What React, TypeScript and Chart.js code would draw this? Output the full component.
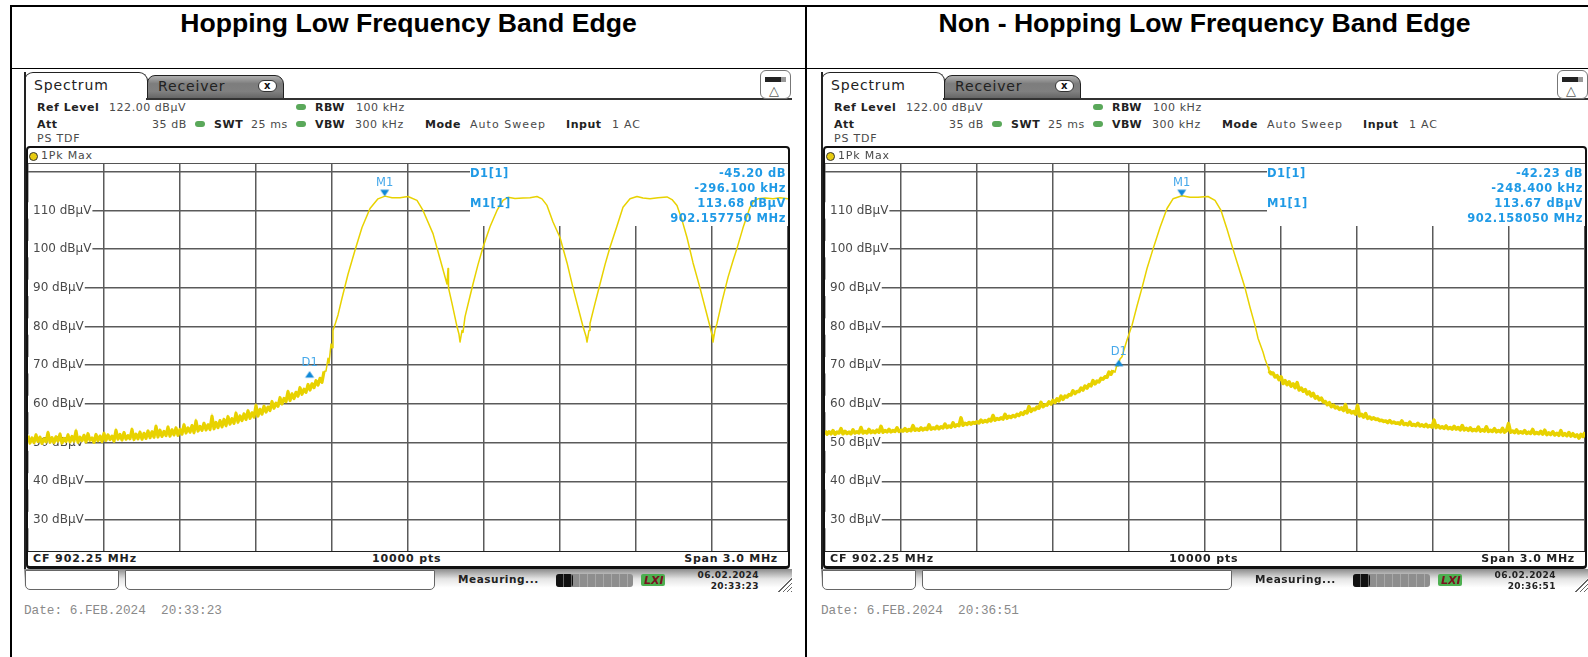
import React, { useEffect, useRef } from "react";
import { Chart, registerables } from "chart.js";

Chart.register(...registerables);

// Frequency axis: kHz from the start of the 3 MHz sweep (CF 902.25 MHz)
const xGridKHz = [0, 300, 600, 900, 1200, 1500, 1800, 2100, 2400, 2700, 3000];
const yTickDb = [30, 40, 50, 60, 70, 80, 90, 100, 110, 120];
const yUnlabelledDb = 120;
const yMinDb = 22;
const yMaxDb = 122;

// ---- Hopping trace ----
const hopNoiseEndKHz = 1168.4;
const hopNoiseDb = [
  51.8,49.9,51.2,50.0,52.0,50.3,51.4,49.8,51.0,50.2,52.6,50.1,51.3,50.0,51.5,50.4,52.2,49.9,51.1,
  50.3,52.0,50.2,51.6,50.4,53.0,50.1,51.4,50.5,51.9,50.2,52.3,50.6,51.2,50.1,52.1,50.5,51.7,50.3,52.4,
  50.6,52.0,50.8,51.7,50.4,53.2,50.9,52.1,50.7,52.6,50.9,51.8,51.0,53.4,50.8,52.2,51.0,52.7,50.9,
  52.4,51.1,53.0,51.3,52.8,51.4,54.2,51.5,53.2,51.6,52.9,51.8,54.0,51.7,53.3,52.0,53.8,51.9,53.4,
  52.2,54.6,52.5,53.8,52.7,54.4,52.6,55.6,53.0,54.2,53.2,55.0,53.3,54.6,53.4,56.8,53.6,55.2,53.9,55.7,
  54.1,56.0,54.4,56.7,54.8,56.2,55.0,57.6,55.3,56.9,55.7,57.4,56.0,58.2,56.3,57.7,56.6,59.6,
  56.9,58.6,57.4,59.4,57.9,59.2,58.3,60.6,58.9,60.2,59.4,61.6,60.0,61.4,60.6,63.2,
  60.9,62.6,61.4,63.0,62.0,64.2,62.5,63.8,63.0,65.0,63.6,65.2,64.2,66.0,64.9,66.6,65.6,68.4,
];
const hopSweepKHz = [
  1168.4,1176.3,1184.2,1188.2,1196.1,1200,1203.9,1211.8,1223.7,1239.4,1263.2,1290.8,1318.4,1350,1381.6,1409.2,
  1436.8,1468.4,1500,1535.5,1559.2,1598.7,1626.3,1653.9,1657.9,1659.9,1673.7,1693.4,1701.3,1705.3,1713.2,1717.1,
  1725,1740.8,1756.6,1776.3,1796.1,1823.7,1851.3,1875,1894.7,1922.4,1954,1981.6,2009.2,2028.9,2048.7,2072.4,
  2100,2127.6,2151.3,2171.1,2190.8,2202.6,2206.6,2214.5,2218.4,2238.2,2257.9,2277.7,2297.4,2325,2348.7,2376.3,
  2403.9,2427.6,2455.3,2486.8,2522.4,2542.1,2561.8,2581.6,2601.3,2625,2652.6,2672.4,2692.1,2700,2703.9,2711.8,
  2719.7,2739.5,2763.2,2782.9,2798.7,2822.4,2850,2865.8,2881.6,2909.2,2940.8,2968.4,3000,
];
const hopSweepDb = [
  68.4,68.5,71.8,70.5,75.5,74.5,79,80.5,83,87.3,93.5,99.7,105.6,110.5,113,113.7,
  113.3,113.3,113.6,112.6,110,104,97.5,91,95,90,86,80,78,76,79,78.5,
  82.5,86.8,91,96,100.5,105.8,110,112.6,113.4,113.1,113.2,113.3,113.6,113,111.3,107,
  103,96.5,90,85,80,77.5,76,79,80.8,86,91,96,100.5,106,110.8,113,
  113.6,113.2,113,113.3,113.5,112.8,111.3,107.5,103,96.5,90,85,80,77.8,76,79,
  80.8,86.5,92.7,97,100.2,105.5,110.8,112.5,113,113.2,113,113.3,113,
];

// ---- Non-hopping trace ----
const nonNoiseLowEndKHz = 1136.8;
const nonNoiseLowDb = [
  53.0,52.2,52.8,52.3,53.1,52.2,52.7,52.5,53.6,52.3,52.9,52.4,52.7,52.3,53.3,52.5,52.8,52.5,53.9,52.5,
  52.9,52.5,53.4,52.6,53.0,52.6,53.2,52.7,54.2,52.7,53.1,52.8,53.4,52.8,53.1,52.9,53.8,52.9,53.2,
  53.0,53.6,53.0,53.4,53.1,54.4,53.2,53.5,53.2,53.8,53.3,53.7,53.4,54.6,53.5,53.8,53.6,54.2,53.6,
  54.1,53.8,54.8,53.9,54.3,54.0,55.1,54.2,54.6,54.4,56.4,54.5,55.0,54.7,55.2,54.8,55.2,55.0,
  55.4,55.1,55.8,55.3,55.7,55.4,56.0,55.6,57.0,55.8,56.2,56.0,56.4,56.1,57.3,56.3,56.8,56.5,57.0,
  56.7,57.3,57.0,57.7,57.3,58.0,57.7,59.3,58.1,58.7,58.5,59.2,58.9,60.4,59.3,59.8,59.7,60.5,60.0,
  60.9,60.4,61.3,60.8,62.0,61.2,62.0,61.8,62.4,62.3,63.4,62.7,63.2,63.2,64.1,
  63.6,64.6,64.1,65.0,64.7,66.0,65.2,65.9,65.7,66.6,66.4,67.0,66.9,68.2,67.7,68.7,
];
const nonSweepKHz = [
  1136.8,1144.7,1152.6,1156.6,1164.5,1172.4,1180.3,1192.1,1211.8,1231.6,1251.3,1271.1,1294.7,1322.4,1350,1373.7,
  1409.2,1440.8,1472.4,1511.8,1539.5,1563.2,1586.8,1610.5,1634.2,1657.9,1677.6,1697.4,1709.2,1728.9,1736.8,1748.7,1752.6,
];
const nonSweepDb = [
  68.7,68.2,70.2,69.8,71.6,72.2,74,76.5,80.3,85.3,90,95,100,105.6,110.5,113,
  113.8,113.4,113.4,113.6,112.6,110,105.2,100,95,90,85,80.3,77,73.4,71.6,69.5,68.5,
];
const nonNoiseHighStartKHz = 1752.6;
const nonNoiseHighDb = [
  68.5,67.8,68.0,67.0,67.3,66.3,67.0,
  65.3,66.0,65.0,65.7,64.6,65.2,64.2,65.5,63.6,64.1,63.3,
  63.7,62.6,63.1,62.1,62.7,61.5,61.9,61.1,61.5,60.5,
  60.6,59.8,60.3,59.3,59.7,59.0,59.2,58.6,59.0,58.3,59.8,57.9,58.3,57.7,58.0,57.4,59.6,
  56.9,57.3,56.6,57.5,56.3,56.6,56.1,56.4,56.0,56.1,55.7,55.8,55.5,
  55.6,55.2,55.7,55.1,55.3,55.0,55.1,54.8,55.6,54.7,54.9,54.6,55.3,54.5,54.7,54.4,55.0,54.3,54.6,54.2,54.7,54.1,54.4,54.0,55.8,
  53.9,54.4,53.8,54.1,53.7,54.3,53.6,53.9,53.5,54.2,53.5,53.9,53.3,54.4,53.3,53.7,53.2,
  53.8,53.1,53.4,53.1,54.0,53.0,53.3,53.0,54.1,52.9,53.2,52.9,53.6,52.8,53.1,52.8,53.7,52.7,53.1,54.9,
  52.7,53.0,52.6,53.3,52.5,52.8,52.5,53.1,52.4,52.7,52.4,53.4,52.3,52.6,52.3,52.9,52.2,53.2,52.1,52.5,52.1,52.8,52.0,52.4,51.9,53.1,51.9,52.3,51.8,52.6,51.7,52.3,51.6,52.0,51.2,52.1,51.6,52.7,
];

// Markers: [kHz from sweep start, dB]
const hopM1 = [1407.75, 113.68];
const hopD1 = [1111.65, 68.48];
const nonM1 = [1408.05, 113.67];
const nonD1 = [1159.65, 71.44];

// Marker read-outs
const hopReadout = ["-45.20 dB", "-296.100 kHz", "113.68 dBµV", "902.157750 MHz"];
const nonReadout = ["-42.23 dB", "-248.400 kHz", "113.67 dBµV", "902.158050 MHz"];

const TRACE = "#e8d200";
const BLUE = "#1f9ae6";
const SANS = '"DejaVu Sans", sans-serif';

function spread(values: number[], startK: number, endK: number) {
  return values.map((y, i) => ({ x: startK + ((endK - startK) * i) / (values.length - 1), y }));
}
function pair(xs: number[], ys: number[]) {
  return xs.map((x, i) => ({ x, y: ys[i] }));
}
function triangle(dir: "up" | "down") {
  const c = document.createElement("canvas");
  c.width = 16;
  c.height = 16;
  const g = c.getContext("2d")!;
  g.fillStyle = "#0f88d8";
  g.beginPath();
  if (dir === "down") {
    g.moveTo(8, 8);
    g.lineTo(3.5, 1.5);
    g.lineTo(12.5, 1.5);
  } else {
    g.moveTo(8, 8);
    g.lineTo(3.5, 14.5);
    g.lineTo(12.5, 14.5);
  }
  g.closePath();
  g.fill();
  return c;
}

type Seg = { pts: { x: number; y: number }[]; w: number; join?: string };

const screenPlugin = {
  id: "screen",
  beforeDatasetsDraw(chart: any) {
    // read-out table blanks the top right of the graticule
    const { ctx, chartArea: a } = chart;
    ctx.save();
    ctx.fillStyle = "#fff";
    ctx.fillRect(a.left + 442, a.top, a.width - 442, 62);
    ctx.restore();
  },
  afterDatasetsDraw(chart: any) {
    const { ctx, scales } = chart;
    ctx.save();
    ctx.font = `11.5px ${SANS}`;
    ctx.fillStyle = "#45a8ea";
    ctx.textAlign = "center";
    ctx.textBaseline = "middle";
    chart.data.datasets.forEach((d: any) => {
      if (!d.markerLabel) return;
      const p = d.data[0];
      ctx.fillText(d.markerLabel, scales.x.getPixelForValue(p.x), scales.y.getPixelForValue(p.y) - d.labelGap);
    });
    ctx.restore();
  },
};

function Trace({ segs, m1, d1 }: { segs: Seg[]; m1: number[]; d1: number[] }) {
  const ref = useRef<HTMLCanvasElement>(null);
  useEffect(() => {
    const lines: any[] = segs.map((s) => ({
      data: s.pts,
      borderColor: TRACE,
      borderWidth: s.w,
      borderJoinStyle: s.join || "round",
      pointRadius: 0,
      tension: 0,
      fill: false,
    }));
    const chart = new Chart(ref.current!, {
      type: "line",
      data: {
        datasets: [
          {
            data: [{ x: m1[0], y: m1[1] }],
            showLine: false,
            pointStyle: triangle("down"),
            markerLabel: "M1",
            labelGap: 13,
          },
          {
            data: [{ x: d1[0], y: d1[1] }],
            showLine: false,
            pointStyle: triangle("up"),
            markerLabel: "D1",
            labelGap: 8,
          },
          ...lines,
        ] as any,
      },
      options: {
        animation: false,
        responsive: false,
        parsing: false,
        layout: { padding: 0, autoPadding: false },
        plugins: { legend: { display: false }, tooltip: { enabled: false } },
        scales: {
          x: {
            type: "linear",
            min: 0,
            max: 3000,
            afterBuildTicks: (s: any) => {
              s.ticks = xGridKHz.map((value) => ({ value }));
            },
            afterFit: (s: any) => {
              s.height = 0;
              s.paddingLeft = 0;
              s.paddingRight = 0;
            },
            ticks: { display: false },
            grid: { color: "#5a5a5a", lineWidth: 1.5, drawTicks: false },
            border: { display: false },
          },
          y: {
            min: yMinDb,
            max: yMaxDb,
            afterBuildTicks: (s: any) => {
              s.ticks = yTickDb.map((value) => ({ value }));
            },
            afterFit: (s: any) => {
              s.width = 0;
              s.paddingTop = 0;
              s.paddingBottom = 0;
            },
            ticks: {
              mirror: true,
              padding: 5,
              color: "#4a4a4a",
              font: { family: "DejaVu Sans", size: 12 },
              showLabelBackdrop: (c: any) => c.tick.value !== yUnlabelledDb,
              backdropColor: "#ffffff",
              backdropPadding: { left: 5, right: 1, top: 1, bottom: 1 },
              callback: (v: any) => (v === yUnlabelledDb ? "" : `${v} dBµV`),
            } as any,
            grid: { color: "#5a5a5a", lineWidth: 1.5, drawTicks: false },
            border: { display: false },
          },
        },
      } as any,
      plugins: [screenPlugin],
    });
    return () => chart.destroy();
  }, []);
  return (
    <canvas
      ref={ref}
      width={760}
      height={387}
      style={{ position: "absolute", left: 28, top: 164, width: 760, height: 387, display: "block" }}
    />
  );
}

function T({ x, y, right, bold, size = 11, color, ls = 0.55, children, font }: any) {
  const st: React.CSSProperties = {
    position: "absolute",
    top: y,
    transform: "translateY(-50%)",
    lineHeight: 1,
    whiteSpace: "pre",
    fontFamily: font || SANS,
    fontSize: size,
    fontWeight: bold ? 700 : 400,
    color: color || (bold ? "#222" : "#4a4a4a"),
    letterSpacing: ls,
  };
  if (right !== undefined) st.right = 797 - right;
  else st.left = x;
  return <div style={st}>{children}</div>;
}

function Box({ x, y, w, h, style }: any) {
  return <div style={{ position: "absolute", left: x, top: y, width: w, height: h, boxSizing: "border-box", ...style }} />;
}

function Led({ x, y }: any) {
  return <Box x={x} y={y} w={10} h={6} style={{ background: "#5aa85a", borderRadius: 3 }} />;
}

function Panel({ left, title, readout, date, time, segs, m1, d1 }: any) {
  return (
    <div style={{ position: "absolute", left, top: 0, width: 797, height: 657 }}>
      {/* tabs */}
      <Box x={24} y={72} w={124} h={27} style={{ border: "1.5px solid #222", borderBottom: "none", borderRadius: "9px 9px 0 0", background: "#fff" }} />
      <Box x={147} y={75} w={137} h={24} style={{ border: "1.5px solid #222", borderRadius: "8px 9px 0 0", background: "linear-gradient(#b0b0b0,#7d7d7d 35%,#808080 70%,#666)" }} />
      <T x={34} y={85} size={14} color="#222" ls={0.85}>Spectrum</T>
      <T x={158} y={86} size={14} color="#222" ls={0.85}>Receiver</T>
      <Box x={258} y={80} w={19} h={12} style={{ background: "#fff", border: "1.5px solid #333", borderRadius: 6 }} />
      <T x={264} y={85.5} size={10} bold color="#111" ls={0}>x</T>
      <Box x={146} y={97.5} w={646} h={2} style={{ background: "#333" }} />
      {/* icon */}
      <Box x={760} y={70} w={31} h={29} style={{ border: "1.2px solid #777", borderRadius: 6, background: "#fff" }} />
      <Box x={765} y={77} w={21} h={5} style={{ background: "linear-gradient(90deg,#222 75%,#999 75%)" }} />
      <T x={769} y={90} size={13} color="#555" ls={0}>△</T>
      {/* settings */}
      <T x={37} y={107} bold>Ref Level</T>
      <T x={109} y={107}>122.00 dBµV</T>
      <Led x={296} y={104} />
      <T x={315} y={107} bold>RBW</T>
      <T x={356} y={107}>100 kHz</T>
      <T x={37} y={123.5} bold>Att</T>
      <T x={152} y={123.5}>35 dB</T>
      <Led x={195} y={120.5} />
      <T x={214} y={123.5} bold>SWT</T>
      <T x={251} y={123.5}>25 ms</T>
      <Led x={296} y={120.5} />
      <T x={315} y={123.5} bold>VBW</T>
      <T x={355} y={123.5}>300 kHz</T>
      <T x={425} y={123.5} bold>Mode</T>
      <T x={470} y={123.5} ls={1.05}>Auto Sweep</T>
      <T x={566} y={123.5} bold>Input</T>
      <T x={612} y={123.5} ls={0.8}>1 AC</T>
      <T x={37} y={138} ls={0.8}>PS TDF</T>

      {/* graticule frame */}
      <Box x={24} y={72} w={1.5} h={498} style={{ background: "#222" }} />
      <Box x={26} y={146} w={764} h={423} style={{ border: "2px solid #111", borderBottomWidth: 3, borderRadius: 4, background: "#fff" }} />
      <T x={41} y={155} size={11} ls={0.8}>1Pk Max</T>
      <Box x={29} y={152} w={9} h={9} style={{ background: "#e8cc10", border: "1.2px solid #333", borderRadius: "50%" }} />
      <Box x={28} y={162.7} w={760} h={1.3} style={{ background: "#555" }} />
      <Trace segs={segs} m1={m1} d1={d1} />
      <Box x={28} y={550.5} w={760} h={1.5} style={{ background: "#222" }} />
      <T x={33} y={558} bold color="#222" ls={0.9}>CF 902.25 MHz</T>
      <T x={372} y={558} bold color="#222" ls={0.85}>10000 pts</T>
      <T right={778} y={558} bold color="#222" ls={0.75}>Span 3.0 MHz</T>

      {/* marker read-out */}
      <T x={470} y={173.5} bold size={11.5} color={BLUE}>D1[1]</T>
      <T x={470} y={204} bold size={11.5} color={BLUE}>M1[1]</T>
      {readout.map((r: string, i: number) => (
        <T key={r} right={786} y={173.5 + i * 15.3} bold size={11.5} color={BLUE}>{r}</T>
      ))}

      {/* status bar */}
      <Box x={24} y={569} w={768} h={22} style={{ background: "linear-gradient(#8c8c8c,#e4e4e4 45%,#fff 85%)" }} />
      <Box x={25} y={570} w={94} h={20} style={{ background: "#fff", border: "1px solid #666", borderRadius: "0 0 5px 5px" }} />
      <Box x={125} y={570} w={310} h={20} style={{ background: "#fff", border: "1px solid #666", borderRadius: "0 0 5px 5px" }} />
      <T x={458} y={579} bold size={10.5} color="#222">Measuring...</T>
      <Box x={556} y={574} w={77} h={13} style={{ background: "repeating-linear-gradient(90deg,#8e8e8e 0 7px,#a8a8a8 7px 8px)", borderRadius: 3 }} />
      <Box x={556} y={574} w={17} h={13} style={{ background: "repeating-linear-gradient(90deg,#111 0 7px,#666 7px 8px)", borderRadius: 3 }} />
      <Box x={641} y={574} w={24} h={12} style={{ background: "#4caf50", borderRadius: 2 }} />
      <T x={644} y={580} bold size={11} color="#7a1020" ls={0}><i>LXI</i></T>
      <T right={759} y={575} bold size={9} color="#222" ls={0.45}>{date}</T>
      <T right={759} y={586} bold size={9} color="#222" ls={0.45}>{time}</T>
      <Box x={776} y={577} w={16} h={15} style={{ background: "repeating-linear-gradient(135deg,#666 0 1px,#fff 1px 3px)", clipPath: "polygon(100% 0,100% 100%,0 100%)" }} />

      <T x={24} y={611} size={12.7} color="#8a8a8a" ls={0} font='"Liberation Mono", monospace'>{`Date: 6.FEB.2024  ${time}`}</T>
      <div style={{ position: "absolute", left: 0, width: 797, top: 23, transform: "translateY(-50%)", textAlign: "center", font: '700 26.6px "Liberation Sans", Arial, sans-serif', color: "#000", paddingLeft: left ? 18 : 20, boxSizing: "border-box" }}>{title}</div>
    </div>
  );
}

export default function App() {
  const hopSegs: Seg[] = [
    { pts: spread(hopNoiseDb, 0, hopNoiseEndKHz), w: 1.2, join: "miter" },
    { pts: spread(hopNoiseDb, 0, hopNoiseEndKHz), w: 3.2 },
    { pts: pair(hopSweepKHz, hopSweepDb), w: 1.5 },
  ];
  const nonSegs: Seg[] = [
    { pts: spread(nonNoiseLowDb, 0, nonNoiseLowEndKHz), w: 1.2, join: "miter" },
    { pts: spread(nonNoiseLowDb, 0, nonNoiseLowEndKHz), w: 3.6 },
    { pts: pair(nonSweepKHz, nonSweepDb), w: 1.5 },
    { pts: spread(nonNoiseHighDb, nonNoiseHighStartKHz, 3000), w: 1.2, join: "miter" },
    { pts: spread(nonNoiseHighDb, nonNoiseHighStartKHz, 3000), w: 3.6 },
  ];
  return (
    <div style={{ position: "absolute", left: 0, top: 0, width: 1588, height: 657, background: "#fff", overflow: "hidden" }}>
      <Panel left={0} title="Hopping Low Frequency Band Edge" readout={hopReadout} date="06.02.2024" time="20:33:23" segs={hopSegs} m1={hopM1} d1={hopD1} />
      <Panel left={797} title="Non - Hopping Low Frequency Band Edge" readout={nonReadout} date="06.02.2024" time="20:36:51" segs={nonSegs} m1={nonM1} d1={nonD1} />
      {/* table rules */}
      <Box x={9.5} y={5} w={1578.5} h={2} style={{ background: "#000" }} />
      <Box x={9.5} y={67.5} w={1578.5} h={1.5} style={{ background: "#000" }} />
      <Box x={9.5} y={5} w={2} h={652} style={{ background: "#000" }} />
      <Box x={805} y={5} w={2} h={652} style={{ background: "#000" }} />
    </div>
  );
}
